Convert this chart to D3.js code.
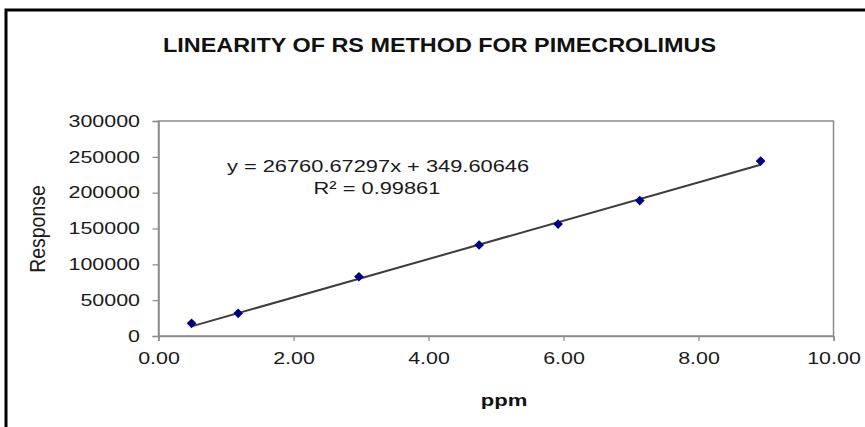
<!DOCTYPE html>
<html>
<head>
<meta charset="utf-8">
<script src="https://cdn.jsdelivr.net/npm/d3@7"></script>
<style>
	body { margin: 0; background: #fff; }
	text { font-family: "Liberation Sans", Arial, sans-serif; }
</style>
</head>
<body>
<svg id="svg" width="865" height="427"></svg>
<script>
// data
var ppm = [0.49, 1.18, 2.97, 4.75, 5.92, 7.13, 8.92];
var response = [17700, 31700, 82700, 127000, 156200, 189000, 244100];
var xTicks = [0, 2, 4, 6, 8, 10];
var yTicks = [0, 50000, 100000, 150000, 200000, 250000, 300000];
var slope = 26760.67297;
var intercept = 349.60646;
var eqLabel = "y = 26760.67297x + 349.60646";
var r2Label = "R\u00b2 = 0.99861";

function draw(){
	var svg = d3.select("#svg");
	var stretch = 1.3; // the picture is wider than tall, text looks stretched

	// outer frame (top and left only)
	svg.append("path")
		.attr("d", "M6,427 L6,10 L865,10")
		.attr("fill", "none")
		.attr("stroke", "#000")
		.attr("stroke-width", 3);

	var left = 158.5, right = 833.5, top = 121, bottom = 336;

	var scaleX = d3.scaleLinear().domain([0, 10]).range([left, right]);
	var scaleY = d3.scaleLinear().domain([0, 300000]).range([bottom, top]);

	// plot border
	svg.append("rect")
		.attr("x", left)
		.attr("y", top)
		.attr("width", right - left)
		.attr("height", bottom - top)
		.attr("fill", "none")
		.attr("stroke", "#8c8c8c")
		.attr("stroke-width", 1.5);

	//Axe Y
	var axisY = d3.axisLeft(scaleY).tickValues(yTicks).tickSize(6).tickFormat(d3.format("d"));
	var gAxisY = svg.append("g").attr("transform", "translate(" + left + ",0)").call(axisY);
	gAxisY.select(".domain").attr("stroke", "#8c8c8c").attr("stroke-width", 1.5);
	gAxisY.selectAll(".tick line").attr("stroke", "#8c8c8c").attr("stroke-width", 1.2);
	gAxisY.selectAll(".tick text")
		.attr("x", -18.5 / stretch)
		.attr("transform", "scale(" + stretch + ",1)")
		.attr("font-size", "16.5px")
		.attr("font-family", "Liberation Sans, Arial, sans-serif")
		.attr("fill", "#1a1a1a");

	//Axe X
	var axisX = d3.axisBottom(scaleX).tickValues(xTicks).tickSize(5).tickPadding(11.5).tickFormat(d3.format(".2f"));
	var gAxisX = svg.append("g").attr("transform", "translate(0," + bottom + ")").call(axisX);
	gAxisX.select(".domain").attr("stroke", "#8c8c8c").attr("stroke-width", 1.5);
	gAxisX.selectAll(".tick line").attr("stroke", "#8c8c8c").attr("stroke-width", 1.2);
	gAxisX.selectAll(".tick text")
		.attr("transform", "scale(" + stretch + ",1)")
		.attr("font-size", "16.5px")
		.attr("font-family", "Liberation Sans, Arial, sans-serif")
		.attr("fill", "#1a1a1a");

	// trend line
	var x0 = d3.min(ppm), x1 = d3.max(ppm);
	svg.append("line")
		.attr("x1", scaleX(x0))
		.attr("y1", scaleY(slope * x0 + intercept))
		.attr("x2", scaleX(x1))
		.attr("y2", scaleY(slope * x1 + intercept))
		.attr("stroke", "#3c3c3c")
		.attr("stroke-width", 2);

	// points
	var pts = ppm.map(function(d, i){ return {x: d, y: response[i]}; });
	var diamond = d3.symbolDiamond2 ? d3.symbol().type(d3.symbolDiamond2).size(60) : d3.symbol().type(d3.symbolSquare).size(42);
	svg.selectAll("myPoints")
		.data(pts)
		.enter()
		.append("path")
		.attr("d", diamond)
		.attr("transform", function(d){
			return "translate(" + scaleX(d.x) + "," + scaleY(d.y) + ")" + (d3.symbolDiamond2 ? "" : " rotate(45)");
		})
		.attr("fill", "#000080");

	// texts
	function label(txt, x, y, size, bold, sx){
		return svg.append("text")
			.attr("transform", "translate(" + x + "," + y + ") scale(" + (sx || stretch) + ",1)")
			.attr("text-anchor", "middle")
			.attr("font-size", size + "px")
			.attr("font-weight", bold ? "bold" : "normal")
			.attr("fill", "#111")
			.text(txt);
	}

	label("LINEARITY OF RS METHOD FOR PIMECROLIMUS", 439.5, 52, 20, true, 1.17);
	label(eqLabel, 378, 172, 16.8, false).attr("fill", "#1a1a1a");
	label(r2Label, 377, 194, 16.8, false).attr("fill", "#1a1a1a");
	label("ppm", 504, 406, 17, true);

	svg.append("text")
		.attr("transform", "translate(37.5,229) rotate(-90) scale(1.18," + stretch + ")")
		.attr("text-anchor", "middle")
		.attr("dy", "0.35em")
		.attr("font-size", "16.5px")
		.attr("fill", "#1a1a1a")
		.text("Response");
}
draw();
</script>
</body>
</html>
